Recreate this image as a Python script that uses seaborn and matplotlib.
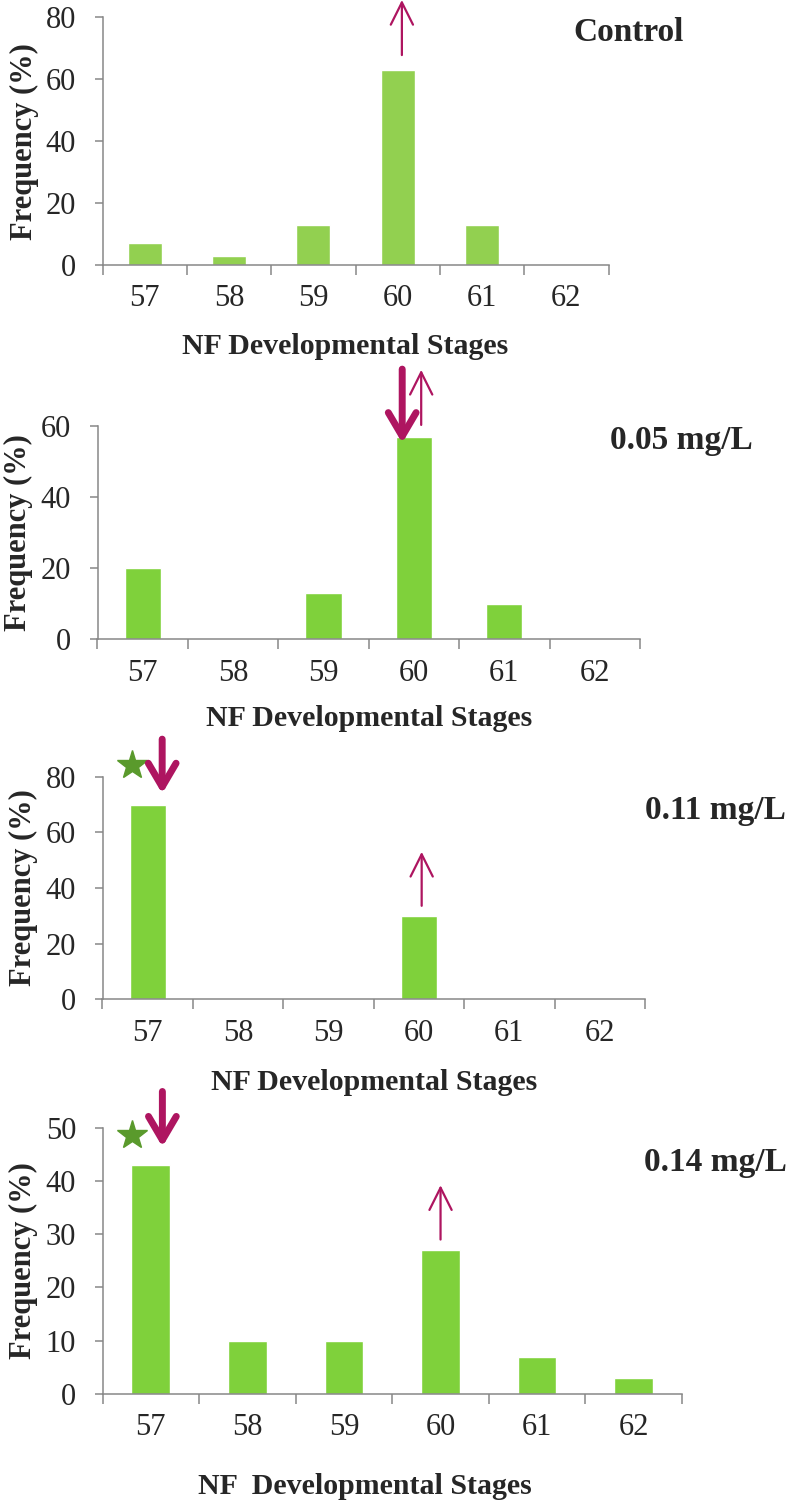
import numpy as np
import matplotlib
matplotlib.use('Agg')
import matplotlib.pyplot as plt
from matplotlib.ticker import FixedLocator, FixedFormatter, NullFormatter
import seaborn as sns

stages = ['57', '58', '59', '60', '61', '62']
control = [7, 3, 13, 63, 13, 0]
dose_005 = [20, 0, 13, 57, 10, 0]
dose_011 = [70, 0, 0, 30, 0, 0]
dose_014 = [43, 10, 10, 27, 7, 3]

panel_names = ['Control', '0.05 mg/L', '0.11 mg/L', '0.14 mg/L']
x_titles = ['NF Developmental Stages', 'NF Developmental Stages',
            'NF Developmental Stages', 'NF  Developmental Stages']
y_max = [80, 60, 80, 50]
y_step = [20, 20, 20, 10]

sns.set_style('white')
plt.rcParams['font.family'] = ['Liberation Serif', 'DejaVu Serif']

GRAY = '#878787'
ARROW = '#ae1560'
STAR = '#5a9a2c'

W, H = 787, 1506
fig = plt.figure(figsize=(W / 100, H / 100), dpi=100)

# axes boxes in pixels: left, right, top, bottom
boxes = [(102.5, 608.5, 17.3, 265), (97.5, 640, 426, 639.3),
         (102.5, 645, 776.7, 999.3), (102.5, 682, 1127.7, 1394)]
series = [control, dose_005, dose_011, dose_014]
colors = ['#92d050', '#7fd13b', '#7fd13b', '#7fd13b']
name_pos = [(1.04, 0.937), (1.076, 0.934), (1.129, 0.850), (1.057, 0.871)]
xlabel_pos = [(0.479, -0.331), (0.5, -0.369), (0.5, -0.372), (0.453, -0.349)]
ylabel_x = [-0.155, -0.145, -0.145, -0.136]

# arrows (x, from, to) in data coords, stars (x, y)
thin_up = [(3.05, 67.8, 85.6), (3.08, 60.3, 75.8), (3.03, 33.6, 53.0), (3.0, 29.0, 39.2)]
thick_down = [None, (2.87, 76.0, 55.2), (0.16, 93.5, 73.9), (0.12, 56.8, 46.4)]
stars = [None, None, (-0.17, 84.2), (-0.19, 48.6)]


def arrow(ax, spec, thick):
    x, y0, y1 = spec
    if thick:
        style, lw = '->,head_length=1.7,head_width=1.0', 5
    else:
        style, lw = '->,head_length=1.6,head_width=0.8', 1.6
    ax.annotate('', xy=(x, y1), xytext=(x, y0), annotation_clip=False,
                arrowprops=dict(arrowstyle=style, lw=lw, color=ARROW,
                                shrinkA=0, shrinkB=0, mutation_scale=10,
                                clip_on=False))


for i, box in enumerate(boxes):
    left, right, top, bottom = box
    ax = fig.add_axes([left / W, 1 - bottom / H, (right - left) / W, (bottom - top) / H])
    sns.barplot(x=stages, y=series[i], ax=ax, color=colors[i], width=0.4, saturation=1)

    ax.set_xlim(-0.5, 5.5)
    ax.xaxis.set_major_locator(FixedLocator(np.arange(-0.5, 6, 1)))
    ax.xaxis.set_major_formatter(NullFormatter())
    ax.xaxis.set_minor_locator(FixedLocator(range(6)))
    ax.xaxis.set_minor_formatter(FixedFormatter(stages))
    ax.tick_params(axis='x', which='major', length=7, width=1.1, color=GRAY, direction='out', bottom=True)
    ax.tick_params(axis='x', which='minor', length=0, pad=14, labelsize=22, bottom=True)

    ax.set_ylim(0, y_max[i])
    ax.set_yticks(range(0, y_max[i] + 1, y_step[i]))
    ax.tick_params(axis='y', length=6, width=1.1, color=GRAY, direction='out', pad=13, labelsize=22, left=True)

    for s in ['top', 'right']:
        ax.spines[s].set_visible(False)
    for s in ['left', 'bottom']:
        ax.spines[s].set_color(GRAY)
        ax.spines[s].set_linewidth(1.1)

    ax.set_xlabel(x_titles[i], fontsize=21.5, fontweight='bold')
    ax.xaxis.set_label_coords(*xlabel_pos[i])
    ax.xaxis.label.set_va('center')
    ax.set_ylabel('Frequency (%)', fontsize=22, fontweight='bold')
    ax.yaxis.set_label_coords(ylabel_x[i], 0.5)
    ax.yaxis.label.set_va('center')

    ax.text(*name_pos[i], panel_names[i], transform=ax.transAxes, ha='center', va='center',
            fontsize=24, fontweight='bold')

    arrow(ax, thin_up[i], False)
    if thick_down[i]:
        arrow(ax, thick_down[i], True)
    if stars[i]:
        ax.plot([stars[i][0]], [stars[i][1]], marker='*', ms=22, color=STAR, clip_on=False)

fig.savefig('out.png', dpi=100)
